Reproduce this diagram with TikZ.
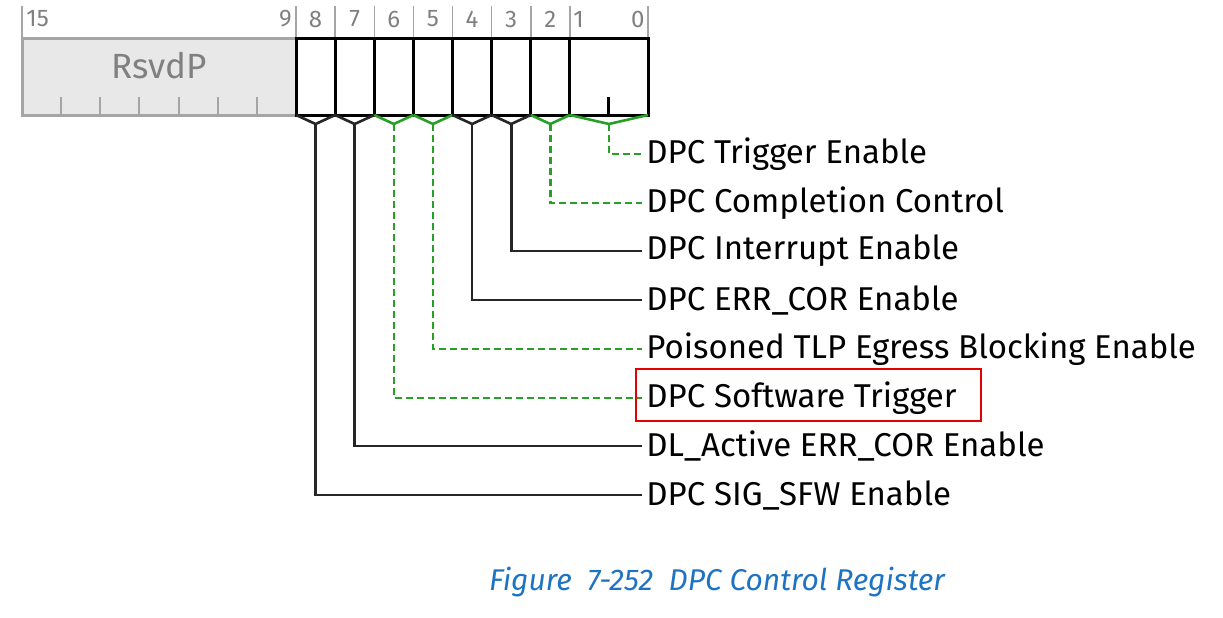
\documentclass[tikz,border=0pt]{standalone}
\usepackage{fontspec}
\setmainfont{Fira Sans}
\usetikzlibrary{positioning}
\definecolor{bitgreen}{RGB}{40,160,40}
\definecolor{rsvdfill}{RGB}{232,232,232}
\definecolor{rsvdline}{RGB}{165,165,165}
\definecolor{capblue}{RGB}{30,115,195}

\begin{document}
\begin{tikzpicture}[x=0.5pt,y=-0.5pt,
  reg/.style={draw=black,line width=1.5pt},
  hdr/.style={text=gray,font=\fontsize{12}{13}\selectfont,inner sep=0pt},
  lbl/.style={anchor=west,inner sep=2pt,font=\fontsize{16.5}{18}\selectfont},
  solidsig/.style={draw=black!85,line width=1.3pt},
  dashsig/.style={draw=bitgreen,line width=1.3pt,dash pattern=on 3.5pt off 2pt},
  vblack/.style={draw=black!85,line width=1.3pt},
  vgreen/.style={draw=bitgreen,line width=1.3pt}]
\useasboundingbox (0,0) rectangle (1223,617);

\fill[rsvdfill] (22,38) rectangle (296,115);
\draw[rsvdline,line width=1.5pt] (22,38) rectangle (296,115);
\foreach \k in {1,...,6}
  \draw[rsvdline,line width=1pt] (22+39.14*\k,115) -- ++(0,-18);
\node[text=gray,font=\fontsize{17.5}{19}\selectfont] (rsvd) at (159,66) {RsvdP};

\foreach \x in {22,296,335.1,374.3,413.4,452.5,491.6,530.8,569.9,648}
  \draw[rsvdline,line width=0.8pt] (\x,6) -- (\x,38);
\node[hdr,anchor=west] (h15) at (26,19) {15};
\node[hdr,anchor=east] (h9) at (292,19) {9};
\node[hdr] (h8) at (315.6,19) {8};
\node[hdr] (h7) at (354.7,19) {7};
\node[hdr] (h6) at (393.8,19) {6};
\node[hdr] (h5) at (433,19) {5};
\node[hdr] (h4) at (472.1,19) {4};
\node[hdr] (h3) at (511.2,19) {3};
\node[hdr] (h2) at (550.3,19) {2};
\node[hdr,anchor=west] (h1) at (573,19) {1};
\node[hdr,anchor=east] (h0) at (645,19) {0};

\draw[reg] (296,38) rectangle (648,115);
\foreach \x in {335.1,374.3,413.4,452.5,491.6,530.8,569.9}
  \draw[reg] (\x,38) -- (\x,115);
\draw[reg] (608.9,115) -- (608.9,97);

\coordinate (b8) at (315.6,124);
\coordinate (b7) at (354.7,124);
\coordinate (b6) at (393.8,124);
\coordinate (b5) at (433,124);
\coordinate (b4) at (472.1,124);
\coordinate (b3) at (511.2,124);
\coordinate (b2) at (550.3,124);
\coordinate (b0) at (608.9,124);

\draw[vblack] (296,115) -- (b8) -- (335.1,115);
\draw[vblack] (335.1,115) -- (b7) -- (374.3,115);
\draw[vgreen] (374.3,115) -- (b6) -- (413.4,115);
\draw[vgreen] (413.4,115) -- (b5) -- (452.5,115);
\draw[vblack] (452.5,115) -- (b4) -- (491.6,115);
\draw[vblack] (491.6,115) -- (b3) -- (530.8,115);
\draw[vgreen] (530.8,115) -- (b2) -- (569.9,115);
\draw[vgreen] (569.9,115) -- (b0) -- (648,115);

\node[lbl] (l0) at (642,154) {DPC Trigger Enable};
\node[lbl] (l2) at (642,203) {DPC Completion Control};
\node[lbl] (l3) at (642,251) {DPC Interrupt Enable};
\node[lbl] (l4) at (642,300) {DPC ERR\_COR Enable};
\node[lbl] (l5) at (642,349) {Poisoned TLP Egress Blocking Enable};
\node[lbl] (l6) at (642,398) {DPC Software Trigger};
\node[lbl] (l7) at (642,446) {DL\_Active ERR\_COR Enable};
\node[lbl] (l8) at (642,495) {DPC SIG\_SFW Enable};

\draw[dashsig] (b0) |- (l0.west);
\draw[dashsig] (b2) |- (l2.west);
\draw[solidsig] (b3) |- (l3.west);
\draw[solidsig] (b4) |- (l4.west);
\draw[dashsig] (b5) |- (l5.west);
\draw[dashsig] (b6) |- (l6.west);
\draw[solidsig] (b7) |- (l7.west);
\draw[solidsig] (b8) |- (l8.west);

\draw[red!90!black,line width=1.2pt] (636,369) rectangle (981,421);

\node[text=capblue,font=\fontsize{15}{17}\selectfont\itshape] (cap) at (717,582)
  {Figure\ \ 7-252\ \ DPC Control Register};
\end{tikzpicture}
\end{document}
